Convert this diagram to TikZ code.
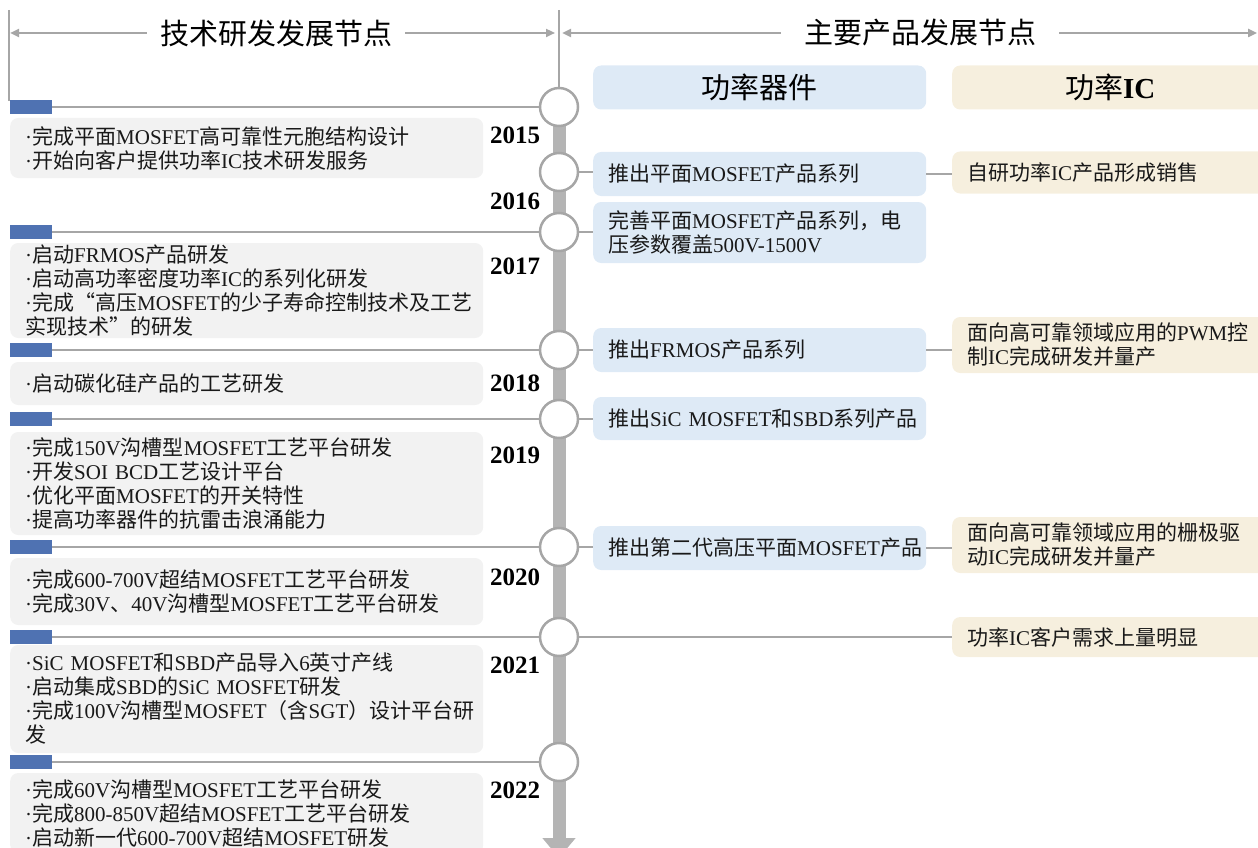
\documentclass[tikz,border=0pt]{standalone}
\usepackage{fontspec}
\setmainfont{Liberation Serif}
\newfontfamily\cjkfamily{Noto Sans CJK SC}
\usetikzlibrary{arrows.meta}
\definecolor{lineGray}{RGB}{166,166,166}
\definecolor{barGray}{RGB}{180,180,180}
\definecolor{tabBlue}{RGB}{79,114,178}
\definecolor{techGray}{RGB}{242,242,242}
\definecolor{devBlue}{RGB}{222,234,246}
\definecolor{icBeige}{RGB}{246,239,222}

% switch to the CJK font for Chinese characters
\XeTeXinterchartokenstate=1
\newXeTeXintercharclass\cjkclass
\newcount\cjkcode
\newcommand\cjkrange[2]{%
  \cjkcode=#1\relax
  \loop
    \XeTeXcharclass\cjkcode=\cjkclass
  \ifnum\cjkcode<#2\relax
    \advance\cjkcode by 1
  \repeat}
\cjkrange{"3000}{"303F}
\cjkrange{"4E00}{"9FFF}
\cjkrange{"FF00}{"FFEF}
\cjkrange{"201C}{"201D}
\XeTeXinterchartoks 0 \cjkclass = {\cjkfamily}
\XeTeXinterchartoks 4095 \cjkclass = {\cjkfamily}
\XeTeXinterchartoks \cjkclass 0 = {\rmfamily}
\XeTeXinterchartoks \cjkclass 4095 = {\rmfamily}

\begin{document}
\begin{tikzpicture}[x=1pt,y=-1pt,
    rule/.style={draw=lineGray, line width=2.5pt},
    endtip/.style={-{Triangle[length=9pt,width=8pt]}},
    hub/.style={circle, draw=lineGray, line width=2.5pt, fill=white, minimum size=38pt, inner sep=0pt},
    tab/.style={fill=tabBlue, minimum width=42pt, minimum height=14pt, inner sep=0pt, anchor=west},
    body/.style={anchor=west, rounded corners=8pt, align=left, inner xsep=15pt, inner ysep=0pt, text=black!90, font=\fontsize{21}{24}\selectfont},
    techbox/.style={body, fill=techGray, text width=443pt},
    devbox/.style={body, fill=devBlue, text width=303pt},
    icbox/.style={body, fill=icBeige, text width=286pt},
    headbox/.style={anchor=west, rounded corners=8pt, align=center, minimum height=44pt, font=\fontsize{29}{29}\selectfont},
    headline/.style={font=\fontsize{29}{29}\selectfont, inner ysep=0pt},
    year/.style={font=\fontsize{25}{25}\selectfont\bfseries}
  ]
  \useasboundingbox (0,0) rectangle (1258,848);

  \node[headline, inner xsep=13pt] (hl) at (276,33) {技术研发发展节点};
  \node[headline, inner xsep=23pt] (hr) at (920,33) {主要产品发展节点};
  \coordinate (hl0) at (10,33);
  \coordinate (hl1) at (555,33);
  \coordinate (hr0) at (562,33);
  \coordinate (hr1) at (1257,33);
  \draw[rule, endtip] (hl) -- (hl0);
  \draw[rule, endtip] (hl) -- (hl1);
  \draw[rule, endtip] (hr) -- (hr0);
  \draw[rule, endtip] (hr) -- (hr1);
  \draw[rule] (9,10) -- (9,101);

  % time axis
  \coordinate (top) at (559,107);
  \coordinate (bottom) at (559,858);
  \draw[rule] (559,10) -- (top);
  \draw[barGray, line width=13pt, -{Triangle[length=20pt,width=32pt]}] (top) -- (bottom);
  \foreach \n/\y in {1/107,2/172,3/232,4/350,5/419,6/547,7/637,8/762}{
    \node[hub] (c\n) at (559,\y) {};
  };
  \foreach \n/\y in {1/107,3/232,4/350,5/419,6/547,7/637,8/762}{
    \node[tab] (b\n) at (10,\y) {};
    \draw[rule] (b\n) -- (c\n);
  };
  \foreach \yr/\y in {2015/135,2016/201,2017/266,2018/383,2019/455,2020/577,2021/665,2022/790}{
    \node[year] (y\yr) at (515,\y) {\yr};
  };

  % technology
  \node[techbox, minimum height=60pt] (t15) at (10,148)
    {·完成平面MOSFET高可靠性元胞结构设计\\·开始向客户提供功率IC技术研发服务};
  \node[techbox, minimum height=95pt] (t17) at (10,290.5)
    {·启动FRMOS产品研发\\·启动高功率密度功率IC的系列化研发\\·完成“高压MOSFET的少子寿命控制技术及工艺\\实现技术”的研发};
  \node[techbox, minimum height=43pt] (t18) at (10,383.5)
    {·启动碳化硅产品的工艺研发};
  \node[techbox, minimum height=103pt] (t19) at (10,483.5)
    {·完成150V沟槽型MOSFET工艺平台研发\\·开发SOI BCD工艺设计平台\\·优化平面MOSFET的开关特性\\·提高功率器件的抗雷击浪涌能力};
  \node[techbox, minimum height=67pt] (t20) at (10,591.5)
    {·完成600-700V超结MOSFET工艺平台研发\\·完成30V、40V沟槽型MOSFET工艺平台研发};
  \node[techbox, minimum height=108pt] (t21) at (10,699)
    {·\mbox{SiC MOSFET}和SBD产品导入6英寸产线\\·启动集成SBD的\mbox{SiC MOSFET}研发\\·完成100V沟槽型MOSFET（含SGT）设计平台研\\发};
  \node[techbox, minimum height=80pt] (t22) at (10,813)
    {·完成60V沟槽型MOSFET工艺平台研发\\·完成800-850V超结MOSFET工艺平台研发\\·启动新一代600-700V超结MOSFET研发};

  % products
  \node[headbox, fill=devBlue, minimum width=333pt] (pd) at (593,87.5) {功率器件};
  \node[headbox, fill=icBeige, minimum width=316pt] (pi) at (952,87.5) {功率\textbf{IC}};
  \node[devbox, minimum height=44pt] (p1) at (593,174) {推出平面MOSFET产品系列};
  \node[devbox, minimum height=61pt] (p2) at (593,232.5) {完善平面MOSFET产品系列，电\\压参数覆盖500V-1500V};
  \node[devbox, minimum height=44pt] (p3) at (593,350) {推出FRMOS产品系列};
  \node[devbox, minimum height=43pt] (p4) at (593,418.5) {推出\mbox{SiC MOSFET}和SBD系列产品};
  \node[devbox, minimum height=44pt] (p5) at (593,548) {推出第二代高压平面MOSFET产品};
  \node[icbox, minimum height=42pt] (q1) at (952,172.5) {自研功率IC产品形成销售};
  \node[icbox, minimum height=56pt] (q2) at (952,345) {面向高可靠领域应用的PWM控\\制IC完成研发并量产};
  \node[icbox, minimum height=56pt] (q3) at (952,545) {面向高可靠领域应用的栅极驱\\动IC完成研发并量产};
  \node[icbox, minimum height=40pt] (q4) at (952,637) {功率IC客户需求上量明显};

  \draw[rule] (c2) -- (c2 -| p1.west);
  \draw[rule] (c3) -- (c3 -| p2.west);
  \draw[rule] (c4) -- (c4 -| p3.west);
  \draw[rule] (c5) -- (c5 -| p4.west);
  \draw[rule] (c6) -- (c6 -| p5.west);
  \draw[rule] (c7) -- (c7 -| q4.west);
  \draw[rule] (p1) -- (p1 -| q1.west);
  \draw[rule] (p3) -- (p3 -| q2.west);
  \draw[rule] (p5) -- (p5 -| q3.west);
\end{tikzpicture}
\end{document}
